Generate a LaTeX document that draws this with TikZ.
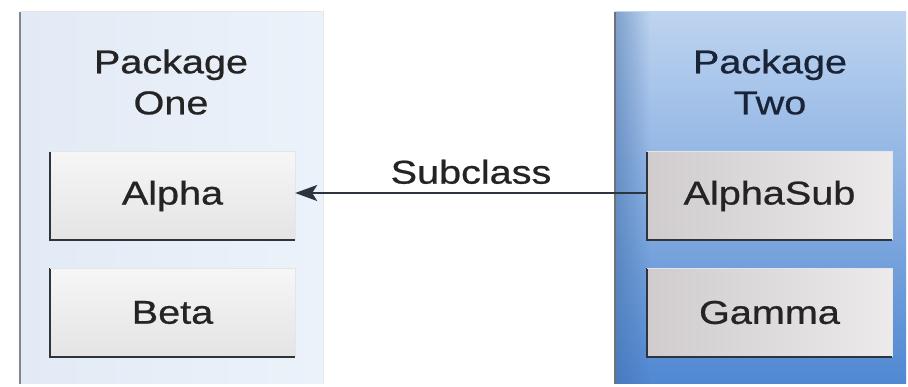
\documentclass[tikz,border=0pt]{standalone}
\usepackage{fontspec}
\setmainfont[FakeStretch=1.2, FakeBold=0.7]{Liberation Sans}
\usetikzlibrary{arrows.meta,fadings}
\definecolor{pkgone}{RGB}{226,234,245}
\definecolor{pkgonel}{RGB}{236,242,250}
\definecolor{pkgtwod}{RGB}{80,136,210}
\definecolor{pkgtwol}{RGB}{190,212,240}
\definecolor{boxl}{RGB}{246,246,246}
\definecolor{boxd}{RGB}{228,228,228}
\definecolor{boxtl}{RGB}{236,234,234}
\definecolor{boxtd}{RGB}{208,204,206}
\definecolor{edge}{RGB}{46,52,62}
\definecolor{txt}{RGB}{36,36,36}
\definecolor{txttwo}{RGB}{26,36,56}
\tikzset{
  x=1pt, y=-1pt,
  classbox/.style={minimum width=245pt, minimum height=88pt, inner sep=0pt,
     font=\fontsize{33}{38}\selectfont, text=txt},
  pkglabel/.style={align=center, font=\fontsize{33}{41}\selectfont},
}
\begin{document}
\begin{tikzpicture}
\useasboundingbox (0,0) rectangle (908,387);
\fill[white] (0,0) rectangle (908,387);
% package one
\shade[left color=pkgone, right color=pkgonel] (20,12) rectangle (323,384);
\draw[edge!60, line width=1.5pt] (20,384) -- (20,12);
\draw[white!80!gray, line width=1pt] (20,12) -- (323,12) -- (323,384);
% package two
\shade[top color=pkgtwol, bottom color=pkgtwod] (615,12) rectangle (906,384);
\fill[pkgtwod!80!black, path fading=east, opacity=0.5] (615,12) rectangle (650,384);
\draw[edge!70, line width=1.5pt] (615,384) -- (615,12);
% labels
\node[pkglabel, text=txt] (p1) at (171,82) {Package\\One};
\node[pkglabel, text=txttwo] (p2) at (770,82) {Package\\Two};
% class boxes
\node[classbox, top color=boxl, bottom color=boxd] (alpha) at (172.5,196) {Alpha};
\node[classbox, top color=boxl, bottom color=boxd] (beta) at (172.5,312.5) {Beta};
\node[classbox, left color=boxtd, right color=boxtl] (alphasub) at (769.5,196) {AlphaSub};
\node[classbox, left color=boxtd, right color=boxtl] (gamma) at (769.5,312.5) {Gamma};
\foreach \n in {alpha,beta,alphasub,gamma}{
  \draw[edge, line width=1.8pt] (\n.north west) -- (\n.south west) -- (\n.south east);
  \draw[white!80!gray, line width=0.8pt] (\n.north west) -- (\n.north east) -- (\n.south east);
}
% connector
\draw[edge, line width=1.4pt, -{Stealth[length=22pt,width=16pt,inset=5pt]}] (alphasub.west |- 0,193) -- node[above=5pt, font=\fontsize{33}{38}\selectfont, text=txt] (sub) {Subclass} (alpha.east |- 0,193);
\end{tikzpicture}
\end{document}
